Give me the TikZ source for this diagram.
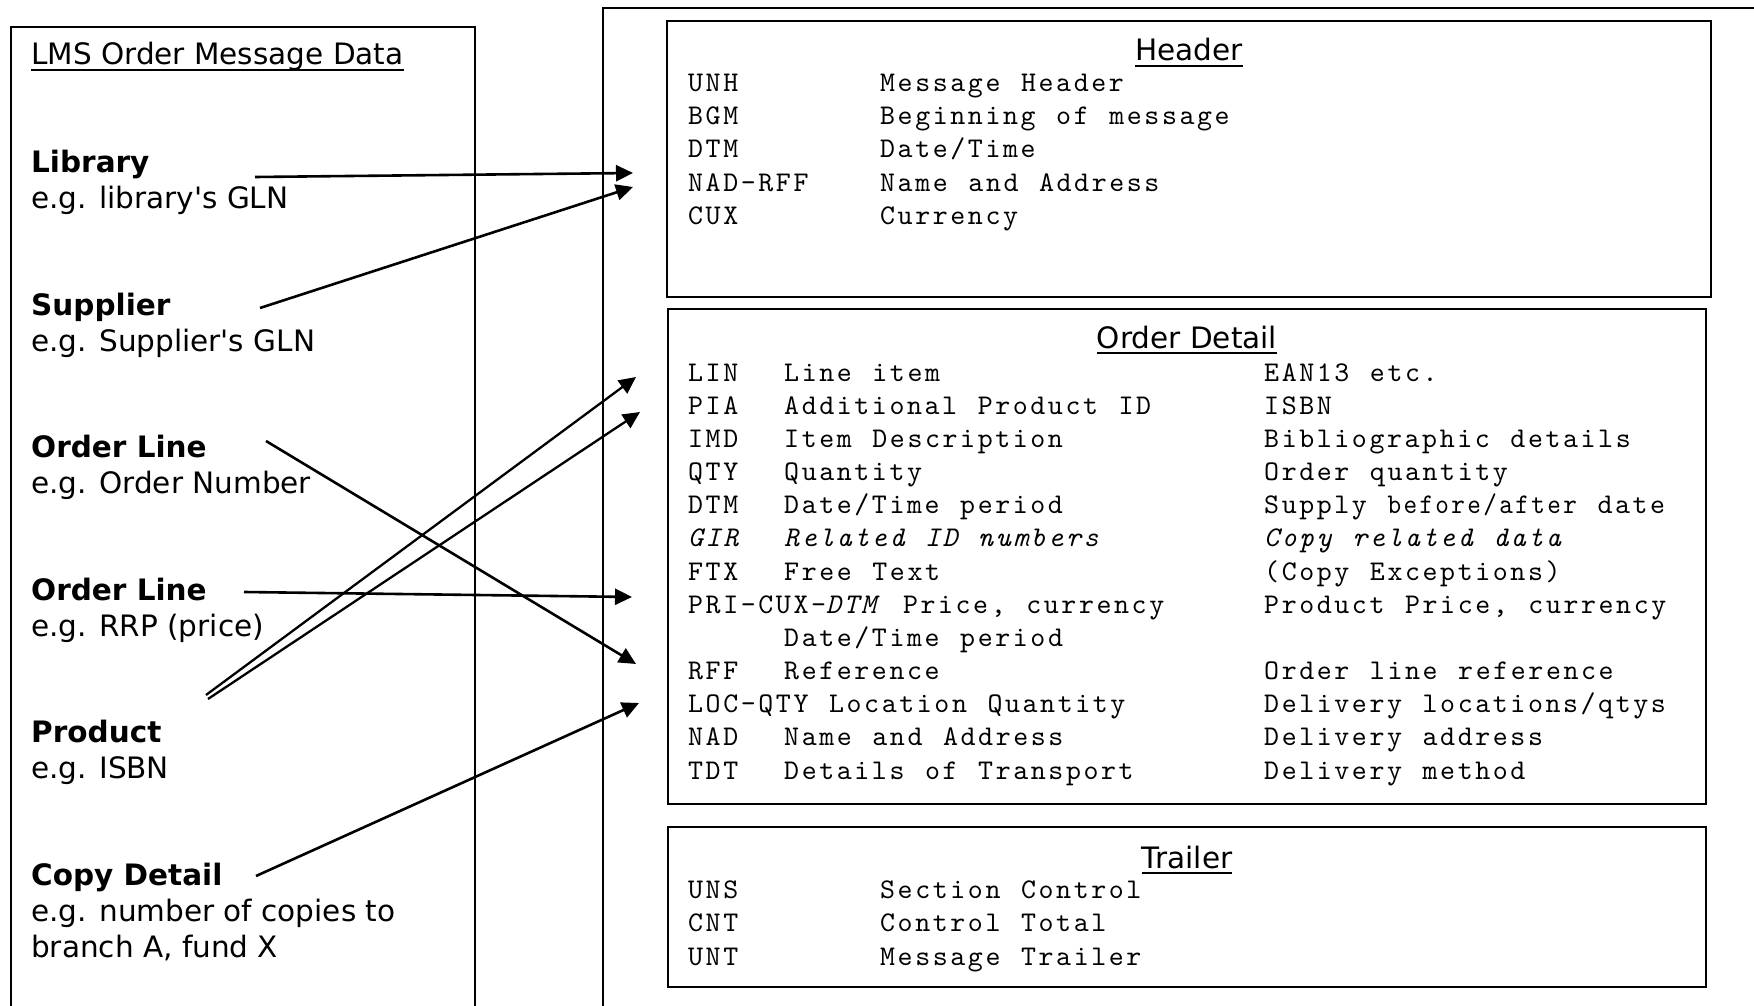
\documentclass[tikz,border=0pt]{standalone}
\usepackage{fontspec}
\usepackage{graphicx}
\usetikzlibrary{arrows.meta}
\newfontfamily\vsans{DejaVu Sans}
\newfontfamily\mono{lmmono10-regular.otf}[LetterSpace=9.1,WordSpace=1.174,ItalicFont=lmmono10-italic.otf]
\newcommand\myul[1]{\setbox0\hbox{#1}\rlap{\rule[-6pt]{\wd0}{2pt}}\box0}
\newcommand\hrow[2]{\rlap{#1}\hspace{192pt}#2}
\newcommand\orow[3]{\rlap{#1}\hspace{96pt}\rlap{#2}\hspace{480pt}#3}
\begin{document}
\begin{tikzpicture}[x=1pt,y=-1pt,
  sans/.style={font=\vsans\fontsize{29.5}{36}\selectfont, inner sep=0pt, anchor=base west},
  bsans/.style={font=\vsans\bfseries\fontsize{29.5}{36}\selectfont, inner sep=0pt, anchor=base west},
  sectitle/.style={font=\vsans\fontsize{29.5}{36}\selectfont, inner sep=0pt, anchor=base},
  code/.style={font=\mono\fontsize{28.5}{33}\selectfont, inner sep=0pt, anchor=base west},
  panel/.style={draw, line width=2pt},
  secbox/.style={draw, line width=2.6pt, inner sep=0pt},
  link/.style={line width=2.6pt, -{Triangle[length=17pt,width=16pt]}},
]
\useasboundingbox (0,0) rectangle (1754,1006);
\clip (0,0) rectangle (1754,1006);
\fill[white] (0,0) rectangle (1754,1006);

% panels
\draw[panel] (11,1030) -- (11,27) -- (475,27) -- (475,1030);
\draw[panel] (603,1030) -- (603,8) -- (1780,8);

% section boxes
\node[secbox, minimum width=1044pt, minimum height=276pt] (hdrbox) at (1189,159) {};
\node[secbox, minimum width=1038pt, minimum height=495pt] (odbox) at (1187,556.5) {};
\node[secbox, minimum width=1038pt, minimum height=160pt] (trbox) at (1187,907) {};

% left panel text
\node[sans] (lms) at (31,65) {\myul{LMS Order Message Data}};
\node[bsans] (lib) at (31,172) {Library};
\node[sans] (libeg) at (31,208) {e.g. library's GLN};
\node[bsans] (sup) at (31,315) {Supplier};
\node[sans] (supeg) at (31,351) {e.g. Supplier's GLN};
\node[bsans] (ola) at (31,457) {Order Line};
\node[sans] (olaeg) at (31,493) {e.g. Order Number};
\node[bsans] (olb) at (31,600) {Order Line};
\node[sans] (olbeg) at (31,636) {e.g. RRP (price)};
\node[bsans] (prod) at (31,742) {Product};
\node[sans] (prodeg) at (31,778) {e.g. ISBN};
\node[bsans] (copy) at (31,885) {Copy Detail};
\node[sans] (copyeg) at (31,921) {e.g. number of copies to};
\node[sans] (copyeg2) at (31,957) {branch A, fund X};

% header
\node[sectitle] (hdrt) at (1189,61) {\myul{Header}};
\node[code] (h1) at (688,91.7) {\hrow{UNH}{Message Header}};
\node[code] (h2) at (688,124.8) {\hrow{BGM}{Beginning of message}};
\node[code] (h3) at (688,157.9) {\hrow{DTM}{Date/Time}};
\node[code] (h4) at (688,191) {\hrow{NAD-RFF}{Name and Address}};
\node[code] (h5) at (688,224.1) {\hrow{CUX}{Currency}};

% order detail
\node[sectitle] (odt) at (1187,348) {\myul{Order Detail}};
\node[code] (o1) at (688,381) {\orow{LIN}{Line item}{EAN13 etc.}};
\node[code] (o2) at (688,414.2) {\orow{PIA}{Additional Product ID}{ISBN}};
\node[code] (o3) at (688,447.3) {\orow{IMD}{Item Description}{Bibliographic details}};
\node[code] (o4) at (688,480.5) {\orow{QTY}{Quantity}{Order quantity}};
\node[code] (o5) at (688,513.7) {\orow{DTM}{Date/Time period}{Supply \scalebox{0.91}[1]{before/after} date}};
\node[code] (o6) at (688,546.9) {\orow{\itshape GIR}{\itshape Related ID numbers}{\itshape Copy related data}};
\node[code] (o7) at (688,580) {\orow{FTX}{Free Text}{(Copy Exceptions)}};
\node[code] (o8) at (688,613.2) {\orow{PRI-CUX-\textit{DTM} Price, currency}{}{Product Price, currency}};
\node[code] (o9) at (688,646.4) {\orow{}{Date/Time period}{}};
\node[code] (o10) at (688,679.5) {\orow{RFF}{Reference}{Order line reference}};
\node[code] (o11) at (688,712.7) {\orow{LOC-QTY Location Quantity}{}{Delivery locations/qtys}};
\node[code] (o12) at (688,745.9) {\orow{NAD}{Name and Address}{Delivery address}};
\node[code] (o13) at (688,779) {\orow{TDT}{Details of Transport}{Delivery method}};

% trailer
\node[sectitle] (trt) at (1187,868) {\myul{Trailer}};
\node[code] (t1) at (688,898) {\hrow{UNS}{Section Control}};
\node[code] (t2) at (688,931.5) {\hrow{CNT}{Control Total}};
\node[code] (t3) at (688,965) {\hrow{UNT}{Message Trailer}};

% connectors
\coordinate (libS) at (255,177);  \coordinate (libE) at (633,173);
\coordinate (supS) at (260,308);  \coordinate (supE) at (633,187);
\coordinate (olaS) at (266,441);  \coordinate (olaE) at (636,664);
\coordinate (olbS) at (244,592);  \coordinate (olbE) at (632,597);
\coordinate (prS1) at (206,695);  \coordinate (prE1) at (636,377);
\coordinate (prS2) at (208,699);  \coordinate (prE2) at (640,412);
\coordinate (cpS) at (256,876);   \coordinate (cpE) at (639,703);

\draw[link] (libS) -- (libE);
\draw[link] (supS) -- (supE);
\draw[link] (olaS) -- (olaE);
\draw[link] (olbS) -- (olbE);
\draw[link, line width=2.3pt] (prS1) -- (prE1);
\draw[link, line width=2.3pt] (prS2) -- (prE2);
\draw[link] (cpS) -- (cpE);
\end{tikzpicture}
\end{document}
